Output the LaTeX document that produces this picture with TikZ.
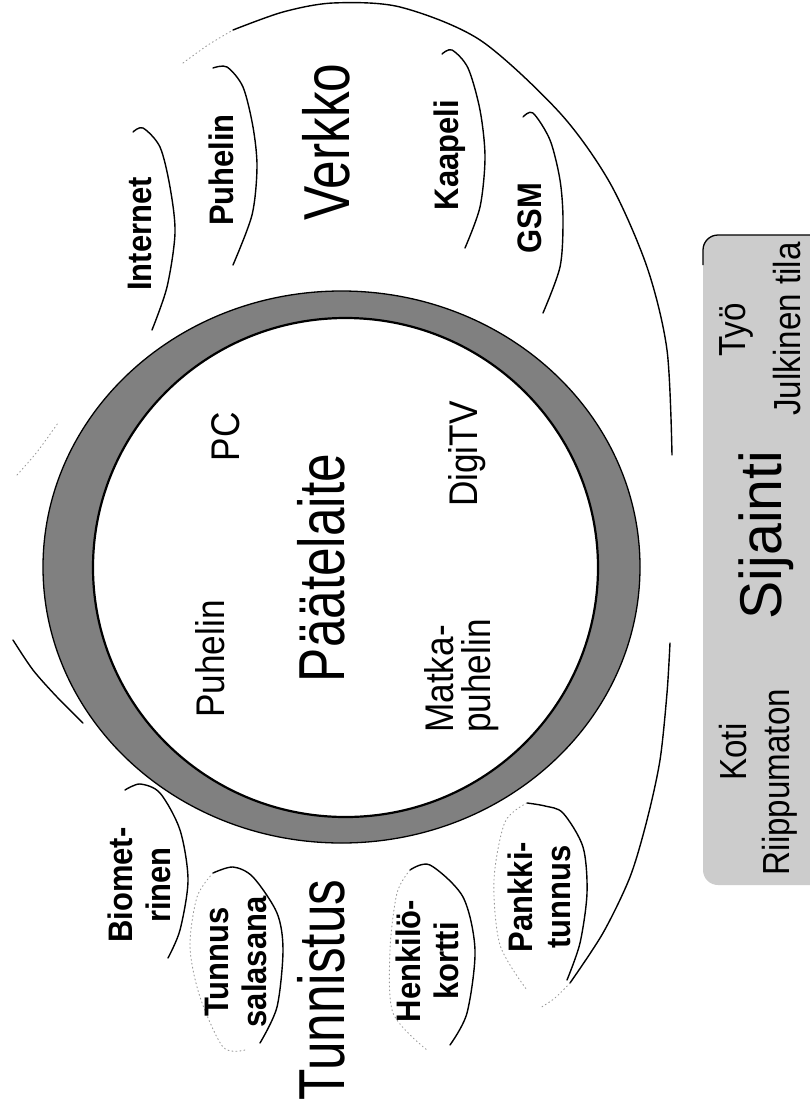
\documentclass[tikz,border=0pt]{standalone}
\usepackage{fontspec}
\setmainfont{Liberation Sans}
\newfontfamily\bigf[FakeStretch=0.79]{Liberation Sans}
\newfontfamily\midf[FakeStretch=0.88]{Liberation Sans}
\newfontfamily\lblf[FakeStretch=0.91]{Liberation Sans}
\newfontfamily\sijf[FakeStretch=0.97]{Liberation Sans}
\begin{document}
\begin{tikzpicture}[x=1pt,y=-1pt,
  big/.style={rotate=90, inner sep=0pt, font=\bigf\fontsize{65}{70}\selectfont},
  lbl/.style={rotate=90, inner sep=0pt, align=center, font=\lblf\bfseries\fontsize{34}{38}\selectfont},
  dev/.style={rotate=90, inner sep=0pt, font=\midf\fontsize{40}{37}\selectfont},
  loc/.style={rotate=90, inner sep=0pt, font=\midf\fontsize{37.7}{40}\selectfont},
  arcline/.style={line width=1.4pt, line cap=round},
  fadeline/.style={line width=0.9pt, black!40, dash pattern=on 1pt off 3pt, line cap=round},
]
\useasboundingbox (0,0) rectangle (810,1114);
\fill[white] (0,0) rectangle (810,1114);

% big enclosure curve
\draw[arcline] plot[smooth] coordinates {(13,640) (33,670) (57,697) (83,723)};
\draw[fadeline] plot[smooth] coordinates {(17,475) (37,452) (58,423)};
\draw[fadeline] plot[smooth] coordinates {(183,63) (208,45) (233,30)};
\draw[arcline] plot[smooth] coordinates {(233,30) (283,12) (333,3) (400,7) (480,40) (560,113) (610,183) (647,267) (667,350) (672,455)};
\draw[arcline] plot[smooth] coordinates {(670,643) (667,693) (660,760) (647,820) (630,877) (603,933) (570,983)};
\draw[fadeline] plot[smooth] coordinates {(570,983) (555,998) (540,1008)};

% Verkko arcs
\draw[arcline] plot[smooth] coordinates {(133,132) (143,128) (160,147) (170,187) (175,233) (167,287) (152,330)};
\draw[arcline] plot[smooth] coordinates {(213,68) (227,67) (243,87) (253,127) (257,167) (252,215) (233,265)};
\draw[arcline] plot[smooth] coordinates {(442,54) (452,50) (468,68) (480,110) (485,157) (480,207) (465,248)};
\draw[arcline] plot[smooth] coordinates {(523,117) (533,113) (550,140) (560,180) (563,220) (560,267) (543,313)};

% Tunnistus arcs
\draw[arcline] plot[smooth] coordinates {(125,790) (140,784) (160,793) (180,830) (188,880) (180,930) (168,958)};
\draw[arcline] plot[smooth] coordinates {(213,873) (233,867) (253,877) (277,913) (283,950) (277,1007) (260,1043)};
\draw[fadeline] plot[smooth] coordinates {(213,873) (197,897) (190,947) (200,997) (223,1047) (245,1050)};
\draw[arcline] plot[smooth] coordinates {(410,870) (430,865) (463,897) (475,950) (467,1013) (450,1045)};
\draw[fadeline] plot[smooth] coordinates {(410,870) (397,893) (390,950) (393,1013) (427,1050)};
\draw[arcline] plot[smooth] coordinates {(527,803) (545,806) (563,813) (583,847) (587,893) (580,943) (567,980)};
\draw[fadeline] plot[smooth] coordinates {(527,803) (505,822) (494,880) (500,945) (527,990)};

% ring
\fill[black!50, even odd rule] (341.5,567) ellipse [x radius=298.5pt, y radius=276pt]
                                (345.5,567.5) ellipse [x radius=252.5pt, y radius=249.5pt];
\draw[line width=1.3pt] (341.5,567) ellipse [x radius=298.5pt, y radius=276pt];
\draw[line width=2.2pt] (345.5,567.5) ellipse [x radius=252.5pt, y radius=249.5pt];

% Sijainti box
\begin{scope}
\clip (0,0) rectangle (810,1114);
\fill[black!20, rounded corners=15pt] (703,235) rectangle (825,885);
\draw[line width=1.3pt, rounded corners=15pt] (703,265) -- (703,235) -- (825,235);
\end{scope}

% Verkko group
\node[lbl] (internet) at (140,234) {Internet};
\node[lbl] (vpuhelin) at (221,170) {Puhelin};
\node[big] (verkko) at (326,142) {Verkko};
\node[lbl] (kaapeli) at (450,155) {Kaapeli};
\node[lbl] (gsm) at (530,218) {GSM};

% Paatelaite group
\node[dev] (pc) at (226,437) {PC};
\node[dev] (puhelin) at (210,659) {Puhelin};
\node[big] (paate) at (321,568) {Päätelaite};
\node[dev, align=left] (matka) at (462,676) {Matka-\\puhelin};
\node[dev] (digitv) at (467,454) {DigiTV};

% Tunnistus group
\node[lbl] (bio) at (139,885) {Biomet-\\rinen};
\node[lbl] (tunnus) at (236,962) {Tunnus\\salasana};
\node[big] (tunnistus) at (321,990) {Tunnistus};
\node[lbl] (henkilo) at (427,961) {Henkilö-\\kortti};
\node[lbl] (pankki) at (539,897) {Pankki-\\tunnus};

% Sijainti group
\node[loc] (tyo) at (736,330) {Työ};
\node[loc] (julkinen) at (787,329) {Julkinen tila};
\node[rotate=90, inner sep=0pt, font=\sijf\fontsize{59}{62}\selectfont] (sijainti) at (766,535) {Sijainti};
\node[loc] (koti) at (733,752) {Koti};
\node[loc] (riippu) at (780,782) {Riippumaton};
\end{tikzpicture}
\end{document}
